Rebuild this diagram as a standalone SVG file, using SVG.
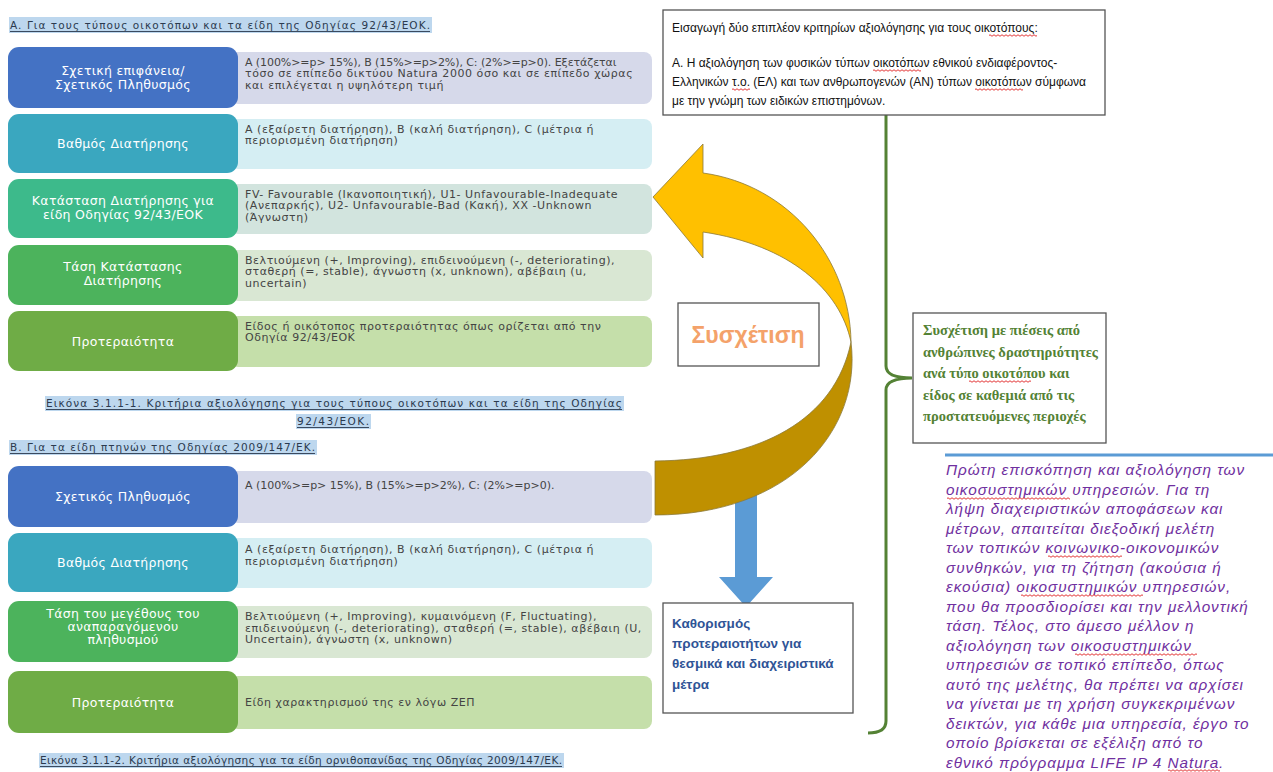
<svg xmlns="http://www.w3.org/2000/svg" width="1273" height="772" viewBox="0 0 1273 772">
<style>
.lt{font-family:"DejaVu Sans",sans-serif;font-size:12.5px;fill:#ffffff;text-anchor:middle;letter-spacing:0.3px}
.rt{font-family:"DejaVu Sans",sans-serif;font-size:11px;fill:#444444;letter-spacing:0.55px}
.hd{font-family:"DejaVu Sans",sans-serif;font-size:10.5px;fill:#2b3a4e}
.hl{fill:#bdd7ee}
.ul{stroke:#2b3a4e;stroke-width:0.9}
.box{fill:#ffffff;stroke:#555555;stroke-width:1.3}
.cal{font-family:"Liberation Sans",Arial,sans-serif;font-size:12px;fill:#111111}
.grn{font-family:"Liberation Serif",serif;font-size:14.5px;font-weight:bold;fill:#548235}
.blu{font-family:"Liberation Sans",Arial,sans-serif;font-size:13.5px;font-weight:bold;fill:#2f5496}
.ita{font-family:"Liberation Sans",Arial,sans-serif;font-size:15.3px;font-style:italic;fill:#7030a0;letter-spacing:0.95px}
</style>
<defs>
<pattern id="wave" width="4" height="3" patternUnits="userSpaceOnUse">
<path d="M0,1.5 Q1,0 2,1.5 T4,1.5" fill="none" stroke="#e02020" stroke-width="0.9"/>
</pattern>
</defs>

<g id="header-a">
<rect class="hl" x="9" y="17" width="423" height="16"/>
<text class="hd" x="10" y="29" textLength="420">A. Για τους τύπους οικοτόπων και τα είδη της Οδηγίας 92/43/ΕΟΚ.</text>
<line class="ul" x1="10" y1="31.5" x2="430" y2="31.5"/>
</g>

<g id="row-a1">
<rect x="230" y="52" width="422" height="52" rx="8" fill="#d6d9ea"/>
<rect x="8" y="47" width="230" height="61" rx="11" fill="#4472c4"/>
<text class="lt" x="123" y="75">Σχετική επιφάνεια/</text>
<text class="lt" x="123" y="89">Σχετικός Πληθυσμός</text>
<text class="rt" x="245" y="65.5" textLength="372">A (100%&gt;=p&gt; 15%), B (15%&gt;=p&gt;2%), C: (2%&gt;=p&gt;0). Εξετάζεται</text>
<text class="rt" x="245" y="77">τόσο σε επίπεδο δικτύου Natura 2000 όσο και σε επίπεδο χώρας</text>
<text class="rt" x="245" y="88.5">και επιλέγεται η υψηλότερη τιμή</text>
</g>

<g id="row-a2">
<rect x="230" y="119" width="422" height="50" rx="8" fill="#d5eef3"/>
<rect x="8" y="114" width="230" height="59" rx="11" fill="#3aa7bf"/>
<text class="lt" x="123" y="148">Βαθμός  Διατήρησης</text>
<text class="rt" x="245" y="132.5">A (εξαίρετη διατήρηση), B (καλή διατήρηση), C (μέτρια ή</text>
<text class="rt" x="245" y="144">περιορισμένη διατήρηση)</text>
</g>

<g id="row-a3">
<rect x="230" y="184" width="422" height="50" rx="8" fill="#d2e4de"/>
<rect x="8" y="179" width="230" height="59" rx="11" fill="#3dba8b"/>
<text class="lt" x="123" y="205">Κατάσταση Διατήρησης για</text>
<text class="lt" x="123" y="219">είδη Οδηγίας 92/43/ΕΟΚ</text>
<text class="rt" x="245" y="197.5">FV- Favourable (Ικανοποιητική), U1- Unfavourable-Inadequate</text>
<text class="rt" x="245" y="209">(Ανεπαρκής), U2- Unfavourable-Bad (Κακή), XX -Unknown</text>
<text class="rt" x="245" y="220.5">(Άγνωστη)</text>
</g>

<g id="row-a4">
<rect x="230" y="250" width="422" height="51" rx="8" fill="#d9e7d3"/>
<rect x="8" y="245" width="230" height="60" rx="11" fill="#4cb35c"/>
<text class="lt" x="123" y="271">Τάση Κατάστασης</text>
<text class="lt" x="123" y="285">Διατήρησης</text>
<text class="rt" x="245" y="263.5">Βελτιούμενη (+, Improving), επιδεινούμενη (-, deteriorating),</text>
<text class="rt" x="245" y="275">σταθερή (=, stable),  άγνωστη (x, unknown), αβέβαιη (u,</text>
<text class="rt" x="245" y="286.5">uncertain)</text>
</g>

<g id="row-a5">
<rect x="230" y="316" width="422" height="51" rx="8" fill="#c5dfaa"/>
<rect x="8" y="311" width="230" height="60" rx="11" fill="#6fac46"/>
<text class="lt" x="123" y="345.5">Προτεραιότητα</text>
<text class="rt" x="245" y="329.5">Είδος ή οικότοπος προτεραιότητας όπως ορίζεται από την</text>
<text class="rt" x="245" y="341">Οδηγία 92/43/ΕΟΚ</text>
</g>

<g id="caption-a">
<rect class="hl" x="45" y="396" width="579" height="15"/>
<rect class="hl" x="296" y="414" width="75" height="15"/>
<text class="hd" x="46" y="407" textLength="576">Εικόνα 3.1.1-1. Κριτήρια αξιολόγησης για τους τύπους οικοτόπων και τα είδη της Οδηγίας</text>
<text class="hd" x="297" y="425" textLength="72">92/43/ΕΟΚ.</text>
<line class="ul" x1="46" y1="409.5" x2="622" y2="409.5"/>
<line class="ul" x1="297" y1="427.5" x2="369" y2="427.5"/>
</g>

<g id="header-b">
<rect class="hl" x="9" y="440" width="308" height="15"/>
<text class="hd" x="10" y="451" textLength="305">B. Για τα είδη πτηνών της Οδηγίας 2009/147/ΕΚ.</text>
<line class="ul" x1="10" y1="453.5" x2="315" y2="453.5"/>
</g>

<g id="row-b1">
<rect x="230" y="471" width="422" height="52" rx="8" fill="#d6d9ea"/>
<rect x="8" y="466" width="230" height="61" rx="11" fill="#4472c4"/>
<text class="lt" x="123" y="501">Σχετικός Πληθυσμός</text>
<text class="rt" x="245" y="489" textLength="310">A (100%&gt;=p&gt; 15%), B (15%&gt;=p&gt;2%), C: (2%&gt;=p&gt;0).</text>
</g>

<g id="row-b2">
<rect x="230" y="538" width="422" height="50" rx="8" fill="#d5eef3"/>
<rect x="8" y="533" width="230" height="59" rx="11" fill="#3aa7bf"/>
<text class="lt" x="123" y="567">Βαθμός  Διατήρησης</text>
<text class="rt" x="245" y="553">A (εξαίρετη διατήρηση), B (καλή διατήρηση), C (μέτρια ή</text>
<text class="rt" x="245" y="564.5">περιορισμένη διατήρηση)</text>
</g>

<g id="row-b3">
<rect x="230" y="606" width="422" height="52" rx="8" fill="#d9e7d3"/>
<rect x="8" y="601" width="230" height="61" rx="11" fill="#4cb35c"/>
<text class="lt" x="123" y="618">Τάση του μεγέθους του</text>
<text class="lt" x="123" y="631">αναπαραγόμενου</text>
<text class="lt" x="123" y="644">πληθυσμού</text>
<text class="rt" x="245" y="620">Βελτιούμενη (+, Improving), κυμαινόμενη (F, Fluctuating),</text>
<text class="rt" x="245" y="631.5">επιδεινούμενη (-, deteriorating), σταθερή (=, stable),  αβέβαιη (U,</text>
<text class="rt" x="245" y="643">Uncertain), άγνωστη (x, unknown)</text>
</g>

<g id="row-b4">
<rect x="230" y="676" width="422" height="53" rx="8" fill="#c5dfaa"/>
<rect x="8" y="671" width="230" height="62" rx="11" fill="#6fac46"/>
<text class="lt" x="123" y="706.5">Προτεραιότητα</text>
<text class="rt" x="245" y="706">Είδη χαρακτηρισμού της εν λόγω ΖΕΠ</text>
</g>

<g id="caption-b">
<rect class="hl" x="39" y="753" width="525" height="15"/>
<text class="hd" x="40" y="764" textLength="522">Εικόνα 3.1.1-2. Κριτήρια αξιολόγησης για τα είδη ορνιθοπανίδας της Οδηγίας 2009/147/ΕΚ.</text>
<line class="ul" x1="40" y1="766.5" x2="562" y2="766.5"/>
</g>

<g id="connectors">
<path d="M886,115 L886,366 Q886,378 912,378 Q886,378 886,390 L886,721 Q886,733 868,733" fill="none" stroke="#548235" stroke-width="3"/>
<polygon points="735,495 757,495 757,577 773,577 746,607 719,577 735,577" fill="#5b9bd5"/>
<path d="M851,342 C862,430 790,515 655,515 L655,461 C760,460 835,420 851,342 Z" fill="#bf9000" stroke="#8c7a3a" stroke-width="0.8"/>
<path d="M703,173 C790,185 850,260 851,342 C840,290 790,245 703,232 L703,258 L653,197 L703,144 Z" fill="#ffc000" stroke="#8c7a3a" stroke-width="0.8"/>
<line x1="945" y1="455" x2="1273" y2="455" stroke="#5b9bd5" stroke-width="3"/>
</g>

<g id="intro-box">
<rect class="box" x="663" y="10" width="442" height="105"/>
<text class="cal" x="672" y="32">Εισαγωγή δύο επιπλέον κριτηρίων αξιολόγησης για τους οικοτόπους:</text>
<text class="cal" x="672" y="67">A. Η αξιολόγηση των φυσικών τύπων οικοτόπων εθνικού ενδιαφέροντος-</text>
<text class="cal" x="672" y="86">Ελληνικών τ.ο. (ΕΛ) και των  ανθρωπογενών (ΑΝ) τύπων οικοτόπων σύμφωνα</text>
<text class="cal" x="672" y="105">με την γνώμη των  ειδικών επιστημόνων.</text>
<rect x="0" y="0" width="48" height="3" fill="url(#wave)" transform="translate(989,34)"/>
<rect x="0" y="0" width="48" height="3" fill="url(#wave)" transform="translate(873,69)"/>
<rect x="0" y="0" width="18" height="3" fill="url(#wave)" transform="translate(732,88)"/>
<rect x="0" y="0" width="48" height="3" fill="url(#wave)" transform="translate(975,88)"/>
</g>

<g id="correlation-box">
<rect class="box" x="678" y="303" width="141" height="63"/>
<text x="748" y="343" text-anchor="middle" font-family="Liberation Sans, Arial, sans-serif" font-size="23" font-weight="bold" fill="#f4a26a">Συσχέτιση</text>
</g>

<g id="pressures-box">
<rect class="box" x="913" y="313" width="193" height="130"/>
<text class="grn" x="923" y="335">Συσχέτιση με πιέσεις από</text>
<text class="grn" x="923" y="356.5">ανθρώπινες δραστηριότητες</text>
<text class="grn" x="923" y="378">ανά τύπο οικοτόπου και</text>
<text class="grn" x="923" y="399.5">είδος σε καθεμιά από τις</text>
<text class="grn" x="923" y="421">προστατευόμενες περιοχές</text>
<rect x="0" y="0" width="62" height="3" fill="url(#wave)" transform="translate(969,380)"/>
</g>

<g id="priorities-box">
<rect class="box" x="663" y="603" width="190" height="110"/>
<text class="blu" x="672" y="628">Καθορισμός</text>
<text class="blu" x="672" y="648">προτεραιοτήτων για</text>
<text class="blu" x="672" y="668">θεσμικά και διαχειριστικά</text>
<text class="blu" x="672" y="689">μέτρα</text>
</g>

<g id="ecosystem-text">
<text class="ita" x="946" y="475">Πρώτη επισκόπηση και αξιολόγηση των</text>
<text class="ita" x="946" y="494.5">οικοσυστημικών υπηρεσιών. Για τη</text>
<text class="ita" x="946" y="514">λήψη διαχειριστικών αποφάσεων και</text>
<text class="ita" x="946" y="533.5">μέτρων, απαιτείται διεξοδική μελέτη</text>
<text class="ita" x="946" y="553">των τοπικών κοινωνικο-οικονομικών</text>
<text class="ita" x="946" y="572.5">συνθηκών, για τη ζήτηση (ακούσια ή</text>
<text class="ita" x="946" y="592">εκούσια) οικοσυστημικών υπηρεσιών,</text>
<text class="ita" x="946" y="611.5">που θα προσδιορίσει και την μελλοντική</text>
<text class="ita" x="946" y="631">τάση. Τέλος, στο άμεσο μέλλον η</text>
<text class="ita" x="946" y="650.5">αξιολόγηση των οικοσυστημικών</text>
<text class="ita" x="946" y="670">υπηρεσιών σε τοπικό επίπεδο, όπως</text>
<text class="ita" x="946" y="689.5">αυτό της μελέτης, θα πρέπει να αρχίσει</text>
<text class="ita" x="946" y="709">να γίνεται με τη χρήση συγκεκριμένων</text>
<text class="ita" x="946" y="728.5">δεικτών, για κάθε μια υπηρεσία, έργο το</text>
<text class="ita" x="946" y="748">οποίο βρίσκεται σε εξέλιξη από το</text>
<text class="ita" x="946" y="767.5">εθνικό πρόγραμμα LIFE IP 4 Natura.</text>
<rect x="0" y="0" width="123" height="3" fill="url(#wave)" transform="translate(947,497)"/>
<rect x="0" y="0" width="74" height="3" fill="url(#wave)" transform="translate(1048,555)"/>
<rect x="0" y="0" width="122" height="3" fill="url(#wave)" transform="translate(1021,594)"/>
<rect x="0" y="0" width="122" height="3" fill="url(#wave)" transform="translate(1075,653)"/>
<rect x="0" y="0" width="52" height="3" fill="url(#wave)" transform="translate(1168,769)"/>
</g>
</svg>
